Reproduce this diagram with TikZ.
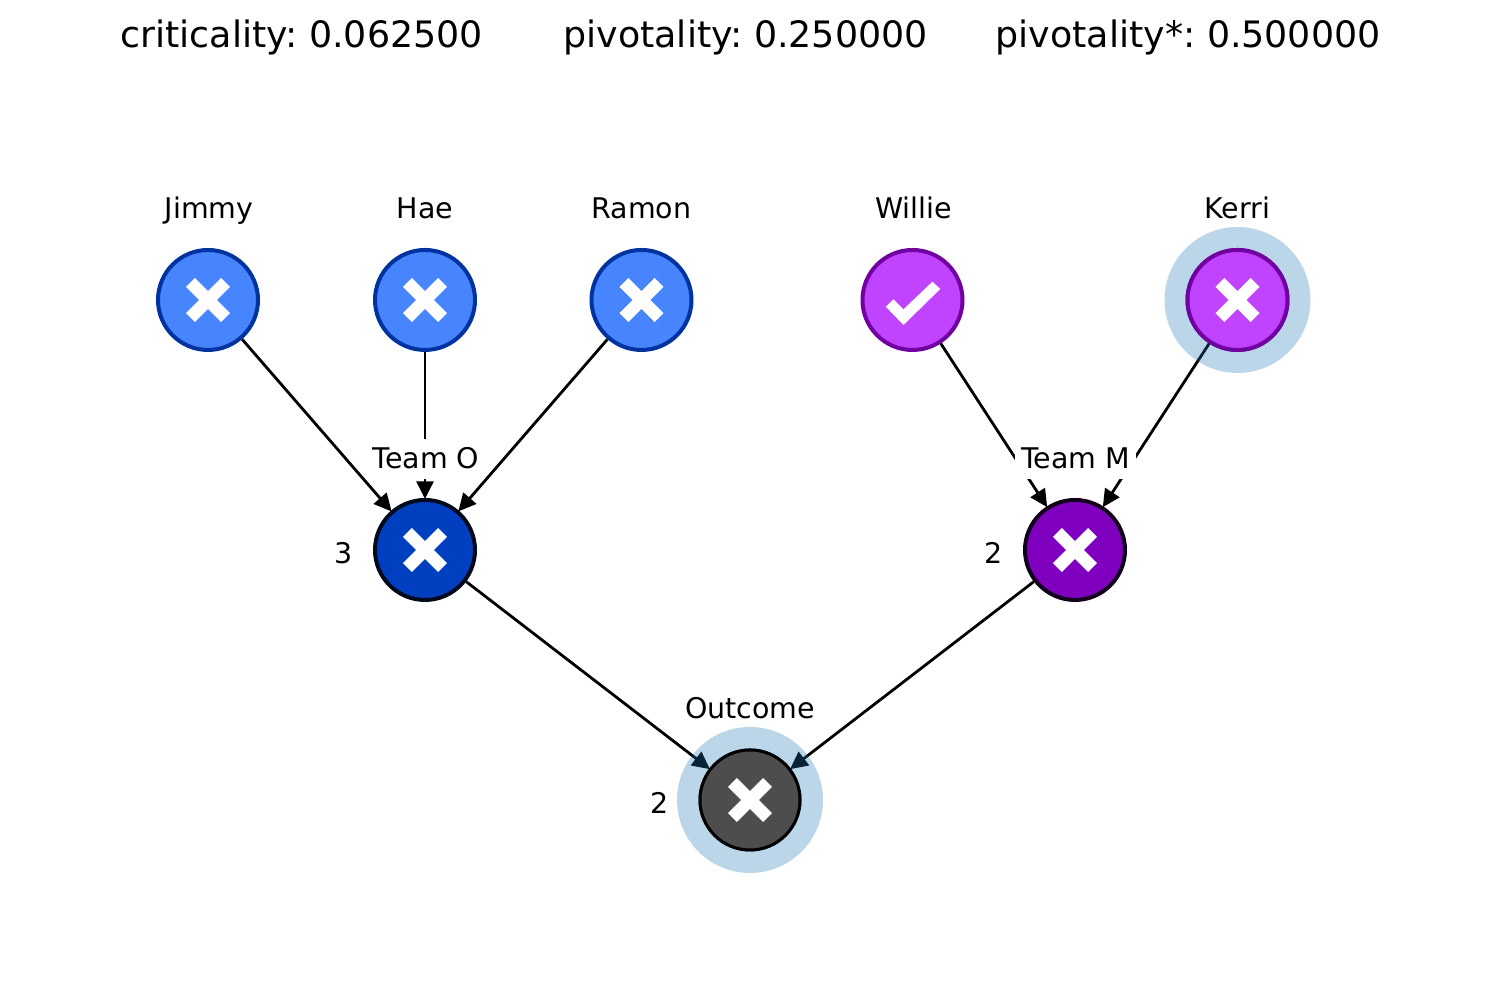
\documentclass[tikz,border=0pt]{standalone}
\usepackage{fontspec}
\setmainfont{DejaVu Sans}
\usetikzlibrary{arrows.meta}

\definecolor{leafO}{HTML}{4785FF}
\definecolor{leafOline}{HTML}{0033A0}
\definecolor{teamO}{HTML}{0040C0}
\definecolor{leafM}{HTML}{C044FF}
\definecolor{leafMline}{HTML}{7000A0}
\definecolor{teamM}{HTML}{8000C0}
\definecolor{outcome}{HTML}{4D4D4D}
\definecolor{halo}{HTML}{1F77B4}

\begin{document}
\frenchspacing
\begin{tikzpicture}[
    >={Triangle[length=5pt,width=4.8pt]},
    vote/.style = {
      circle,
      draw,
      inner sep = 0pt,
      minimum size = 1cm,
      line width = .04cm
    },
    leafo/.style = {vote, fill = leafO, draw = leafOline},
    leafm/.style = {vote, fill = leafM, draw = leafMline},
    teamo/.style = {vote, fill = teamO, draw = black!85!teamO},
    teamm/.style = {vote, fill = teamM, draw = black!85!teamM},
    resultnode/.style = {vote, fill = outcome, draw = black, line width = .03cm},
    halonode/.style = {
      circle,
      fill = halo,
      fill opacity = .3,
      inner sep = 0pt,
      minimum size = 1.46cm
    },
    link/.style = {->, line width = .028cm, shorten > = -.01cm},
    labeltext/.style = {font = \fontsize{8.1}{10}\selectfont, inner sep = 0pt, anchor = base},
    teamname/.style = {
      labeltext,
      fill = white,
      inner xsep = .06cm,
      text height = .3cm,
      text depth = .102cm
    },
    headtext/.style = {font = \fontsize{10.35}{12}\selectfont, inner sep = 0pt, anchor = base},
    crossmark/.pic = {
      \draw[white,line width=.125cm] (-.176,-.176) -- (.176,.176);
      \draw[white,line width=.125cm] (-.176,.176) -- (.176,-.176);
    },
    checkmark/.pic = {
      \fill[white] (-.267,-.067) -- (-.19,.007) -- (-.09,-.093) -- (.2,.183)
        -- (.277,.11) -- (-.09,-.25) -- cycle;
    }
  ]
\useasboundingbox (0,0) rectangle (15,10);

% titles
\node[headtext] (crit)  at (3.015,9.52)  {criticality: 0.062500};
\node[headtext] (pivot) at (7.455,9.52)  {pivotality: 0.250000};
\node[headtext] (star)  at (11.88,9.52)  {pivotality*: 0.500000};

% positions
\coordinate (pjimmy)  at (2.08,7);
\coordinate (phae)    at (4.25,7);
\coordinate (pramon)  at (6.415,7);
\coordinate (pwillie) at (9.125,7);
\coordinate (pkerri)  at (12.375,7);
\coordinate (pteamo)  at (4.25,4.5);
\coordinate (pteamm)  at (10.75,4.5);
\coordinate (pout)    at (7.5,2);

% players
\node[leafo]  (jimmy)  at (pjimmy)  {};
\node[leafo]  (hae)    at (phae)    {};
\node[leafo]  (ramon)  at (pramon)  {};
\node[leafm]  (willie) at (pwillie) {};
\node[leafm]  (kerri)  at (pkerri)  {};
\node[teamo]  (teamo)  at (pteamo)  {};
\node[teamm]  (teamm)  at (pteamm)  {};
\node[resultnode] (out) at (pout)   {};

% links
\draw[link] (jimmy)  -- (teamo);
\draw[link] (hae)    -- (teamo);
\draw[link] (ramon)  -- (teamo);
\draw[link] (willie) -- (teamm);
\draw[link] (kerri)  -- (teamm);
\draw[link] (teamo)  -- (out);
\draw[link] (teamm)  -- (out);

% halos
\node[halonode] (halokerri) at (pkerri) {};
\node[halonode] (haloout)   at (pout)   {};

% redraw on top of the halos
\node[leafm]  (kerritop) at (pkerri) {};
\node[resultnode] (outtop) at (pout) {};

% names
\node[labeltext] (ljimmy)  at (2.09,7.81)   {Jimmy};
\node[labeltext] (lhae)    at (4.25,7.81)   {Hae};
\node[labeltext] (lramon)  at (6.415,7.81)  {Ramon};
\node[labeltext] (lwillie) at (9.135,7.81)  {Willie};
\node[labeltext] (lkerri)  at (12.375,7.81) {Kerri};
\node[teamname] (lteamo) at (4.26,5.31)  {Team O};
\node[teamname] (lteamm) at (10.755,5.31) {Team M};
\node[labeltext] (lout)    at (7.5,2.81)    {Outcome};

% counts
\node[labeltext] (cteamo) at (3.435,4.36)  {3};
\node[labeltext] (cteamm) at (9.935,4.36)  {2};
\node[labeltext] (cout)   at (6.595,1.86)  {2};

% marks
\pic at (pjimmy)  {crossmark};
\pic at (phae)    {crossmark};
\pic at (pramon)  {crossmark};
\pic at (pwillie) {checkmark};
\pic at (pkerri)  {crossmark};
\pic at (pteamo)  {crossmark};
\pic at (pteamm)  {crossmark};
\pic at (pout)    {crossmark};

\end{tikzpicture}
\end{document}
